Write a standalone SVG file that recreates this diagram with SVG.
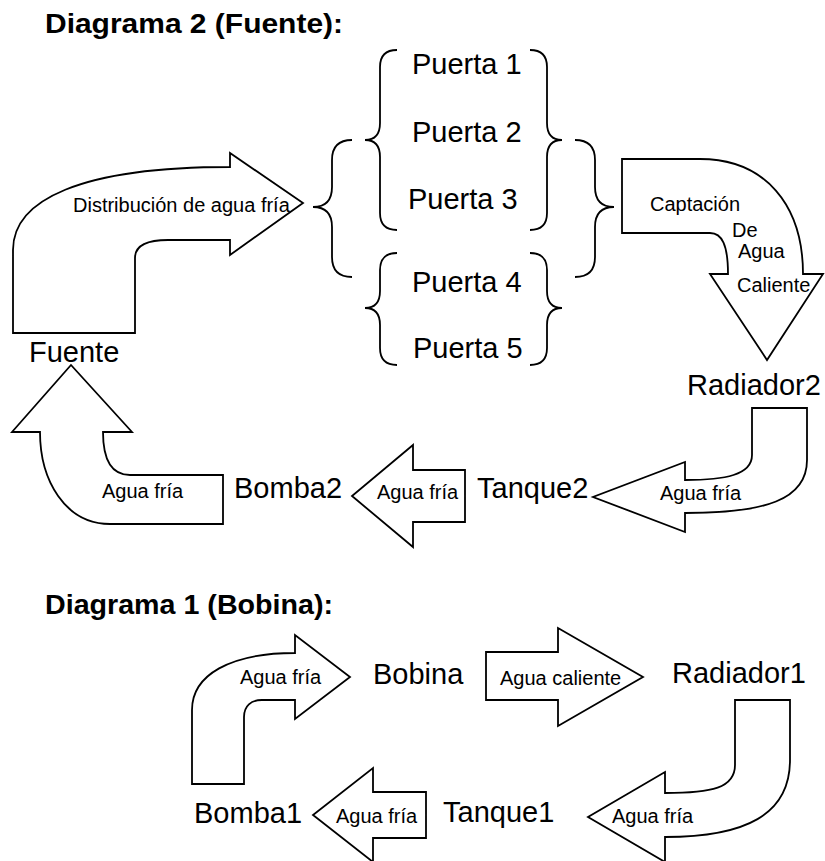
<svg xmlns="http://www.w3.org/2000/svg" width="825" height="861" viewBox="0 0 825 861">
<style>
.bg{fill:#fff}
.shape{fill:#fff;stroke:#000;stroke-width:1.8;stroke-linejoin:miter}
.brace{fill:none;stroke:#000;stroke-width:1.8}
.node{font-family:"Liberation Sans",Arial,sans-serif;font-size:29px;fill:#000}
.lbl{font-family:"Liberation Sans",Arial,sans-serif;font-size:20px;fill:#000}
.title{font-family:"Liberation Sans",Arial,sans-serif;font-size:28px;font-weight:bold;fill:#000}
</style>
<rect class="bg" x="0" y="0" width="825" height="861"/>
<text class="title" x="45" y="33" textLength="298" lengthAdjust="spacingAndGlyphs">Diagrama 2 (Fuente):</text>
<text class="title" x="45" y="614" textLength="288" lengthAdjust="spacingAndGlyphs">Diagrama 1 (Bobina):</text>
<g id="connectors">
  <g id="arrow-distribucion">
    <path class="shape" d="M13,333 L13,250 C13,200 80,167 230,167 L230,153 L303,203 L230,255 L230,240 L168,240 C148,240 135,245 135,258 L135,333 Z"/>
    <text class="lbl" x="73" y="212">Distribución de agua fría</text>
  </g>
  <g id="brace-a"><path class="brace" d="M397,50 Q380,50 380,67 L380,123 Q380,140 365,140 Q380,140 380,157 L380,213 Q380,230 397,230"/></g>
  <g id="brace-b"><path class="brace" d="M530,50 Q547,50 547,67 L547,123 Q547,140 562,140 Q547,140 547,157 L547,213 Q547,230 530,230"/></g>
  <g id="brace-c"><path class="brace" d="M352,140 Q332,140 332,160 L332,187 Q332,207 313,207 Q332,207 332,227 L332,257 Q332,277 352,277"/></g>
  <g id="brace-d"><path class="brace" d="M575,140 Q595,140 595,160 L595,187 Q595,207 614,207 Q595,207 595,227 L595,257 Q595,277 575,277"/></g>
  <g id="brace-e"><path class="brace" d="M397,253 Q380,253 380,270 L380,291 Q380,308 365,308 Q380,308 380,325 L380,348 Q380,365 397,365"/></g>
  <g id="brace-f"><path class="brace" d="M530,253 Q547,253 547,270 L547,291 Q547,308 562,308 Q547,308 547,325 L547,348 Q547,365 530,365"/></g>
  <g id="arrow-captacion">
    <path class="shape" d="M622,159 L622,233 L710,233 C722,233 728,245 728,274 L710,274 L767,360 L823,274 L803,274 C803,205 765,159 700,159 Z"/>
    <text class="lbl" x="650" y="211">Captación</text>
    <text class="lbl" x="732" y="237">De</text>
    <text class="lbl" x="738" y="258">Agua</text>
    <text class="lbl" x="737" y="292">Caliente</text>
  </g>
  <g id="arrow-radiador2-tanque2">
    <path class="shape" d="M752,408 L752,455 C752,475 725,480 685,480 L685,462 L593,497 L685,532 L685,513 C765,513 807,500 807,460 L807,408 Z"/>
    <text class="lbl" x="660" y="500">Agua fría</text>
  </g>
  <g id="arrow-tanque2-bomba2">
    <path class="shape" d="M465,470 L413,470 L413,445 L352,496 L413,547 L413,522 L465,522 Z"/>
    <text class="lbl" x="377" y="499">Agua fría</text>
  </g>
  <g id="arrow-bomba2-fuente">
    <path class="shape" d="M223,475 L130,475 C112,475 103,460 103,432 L132,432 L71,365 L12,432 L40,432 C40,480 65,524 110,524 L223,524 Z"/>
    <text class="lbl" x="102" y="498">Agua fría</text>
  </g>
  <g id="arrow-bomba1-bobina">
    <path class="shape" d="M192,784 L192,710 C192,675 230,653 295,653 L295,635 L350,677 L295,719 L295,700 L262,700 C251,700 244,706 244,717 L244,784 Z"/>
    <text class="lbl" x="240" y="684">Agua fría</text>
  </g>
  <g id="arrow-bobina-radiador1">
    <path class="shape" d="M486,652 L558,652 L558,628 L643,677 L558,726 L558,700 L486,700 Z"/>
    <text class="lbl" x="500" y="685">Agua caliente</text>
  </g>
  <g id="arrow-radiador1-tanque1">
    <path class="shape" d="M735,700 L735,765 C735,788 712,793 665,793 L665,772 L588,817 L665,862 L665,837 C745,837 790,815 790,760 L790,700 Z"/>
    <text class="lbl" x="612" y="823">Agua fría</text>
  </g>
  <g id="arrow-tanque1-bomba1">
    <path class="shape" d="M426,792 L373,792 L373,768 L313,815 L373,862 L373,838 L426,838 Z"/>
    <text class="lbl" x="336" y="823">Agua fría</text>
  </g>
</g>
<g id="node-puerta1"><text class="node" x="412" y="74">Puerta 1</text></g>
<g id="node-puerta2"><text class="node" x="412" y="142">Puerta 2</text></g>
<g id="node-puerta3"><text class="node" x="408" y="209">Puerta 3</text></g>
<g id="node-puerta4"><text class="node" x="412" y="292">Puerta 4</text></g>
<g id="node-puerta5"><text class="node" x="413" y="358">Puerta 5</text></g>
<g id="node-fuente"><text class="node" x="29" y="362">Fuente</text></g>
<g id="node-radiador2"><text class="node" x="687" y="395">Radiador2</text></g>
<g id="node-tanque2"><text class="node" x="477" y="498">Tanque2</text></g>
<g id="node-bomba2"><text class="node" x="234" y="498">Bomba2</text></g>
<g id="node-bobina"><text class="node" x="373" y="684">Bobina</text></g>
<g id="node-radiador1"><text class="node" x="672" y="683">Radiador1</text></g>
<g id="node-tanque1"><text class="node" x="443" y="822">Tanque1</text></g>
<g id="node-bomba1"><text class="node" x="194" y="823">Bomba1</text></g>
</svg>
